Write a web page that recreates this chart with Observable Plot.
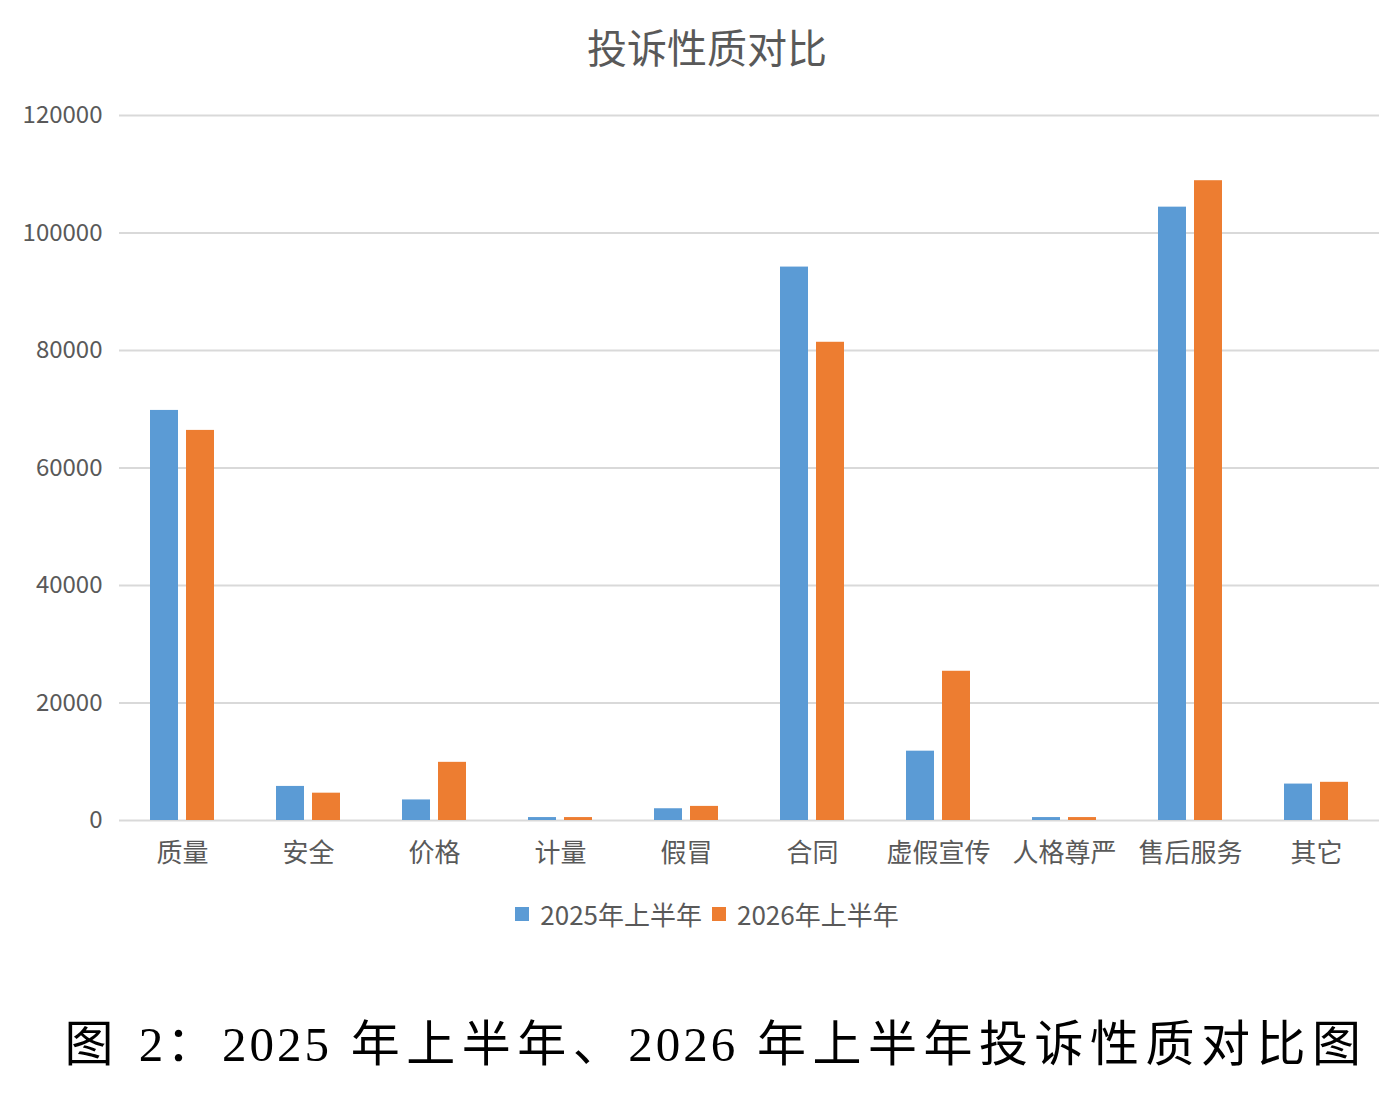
<!DOCTYPE html>
<html>
<head>
<meta charset="utf-8">
<script src="https://cdn.jsdelivr.net/npm/d3@7"></script>
<script src="https://cdn.jsdelivr.net/npm/@observablehq/plot@0.6"></script>
<style>
  html, body { margin: 0; padding: 0; background: #fff; }
  body { width: 1390px; height: 1096px; position: relative; overflow: hidden; font-family: "Noto Sans CJK SC", "Noto Sans", sans-serif; }
  #title { position: absolute; left: 0; top: 20px; width: 1414px; text-align: center; font-size: 40px; line-height: 52px; color: #595959; }
  #chart { position: absolute; left: 0; top: 95px; }
  #legend { position: absolute; left: 0; top: 896px; width: 1414px; display: flex; justify-content: center; align-items: center; font-size: 26px; line-height: 36px; color: #595959; }
  #legend .item { display: flex; align-items: center; margin: 0 5px; }
  #legend .sw { width: 14px; height: 14px; margin-right: 11px; }
  #caption { position: absolute; left: 0; top: 1010px; width: 1432px; text-align: center; font-family: "Liberation Serif", "Times New Roman", "DejaVu Serif", "Noto Sans CJK SC", serif; font-size: 49px; line-height: 70px; letter-spacing: 6.5px; color: #000; white-space: nowrap; }
  #caption .n { font-family: "Liberation Serif", "Times New Roman", "DejaVu Serif", serif; letter-spacing: 3px; }
</style>
</head>
<body>
<div id="title">投诉性质对比</div>
<div id="chart"></div>
<div id="legend"></div>
<div id="caption">图 <span class="n">2</span>：<span class="n">2025</span> 年上半年、<span class="n">2026</span> 年上半年投诉性质对比图</div>
<script>
const categories = ["质量", "安全", "价格", "计量", "假冒", "合同", "虚假宣传", "人格尊严", "售后服务", "其它"];
const series = ["2025年上半年", "2026年上半年"];
const values2025 = [69800, 5800, 3500, 500, 2000, 94200, 11800, 500, 104400, 6200];
const values2026 = [66400, 4650, 9900, 500, 2400, 81400, 25400, 500, 108900, 6500];
const yTicks = [0, 20000, 40000, 60000, 80000, 100000, 120000];
const colors = ["#5B9BD5", "#ED7D31"];

const data = [];
categories.forEach((c, i) => {
  data.push({category: c, series: series[0], value: values2025[i]});
  data.push({category: c, series: series[1], value: values2026[i]});
});

const chart = Plot.plot({
  width: 1390,
  height: 785,
  marginLeft: 118,
  marginRight: 10,
  marginTop: 20,
  marginBottom: 60,
  style: {fontFamily: "'Noto Sans CJK SC', 'Noto Sans', sans-serif", color: "#595959", background: "#fff"},
  fx: {domain: categories, padding: 0, label: null, axis: null},
  x: {domain: series, paddingInner: 0.22, paddingOuter: 0.86, axis: null},
  y: {domain: [0, 120000], axis: null},
  color: {domain: series, range: colors},
  marks: [
    Plot.ruleY(yTicks, {stroke: "#d9d9d9", strokeWidth: 2}),
    Plot.barY(data, {fx: "category", x: "series", y: "value", fill: "series", inset: 0}),
    Plot.axisY({ticks: yTicks, tickSize: 0, tickPadding: 17, tickFormat: d => String(d), fontSize: 24, fill: "#595959", label: null}),
    Plot.axisFx({domain: categories, anchor: "bottom", tickSize: 0, tickPadding: 23, fontSize: 26, fill: "#595959", label: null})
  ]
});
document.getElementById("chart").appendChild(chart);

const legend = document.getElementById("legend");
series.forEach((s, i) => {
  const item = document.createElement("div");
  item.className = "item";
  const sw = document.createElement("div");
  sw.className = "sw";
  sw.style.background = colors[i];
  const t = document.createElement("span");
  t.textContent = s;
  item.appendChild(sw);
  item.appendChild(t);
  legend.appendChild(item);
});
</script>
</body>
</html>
